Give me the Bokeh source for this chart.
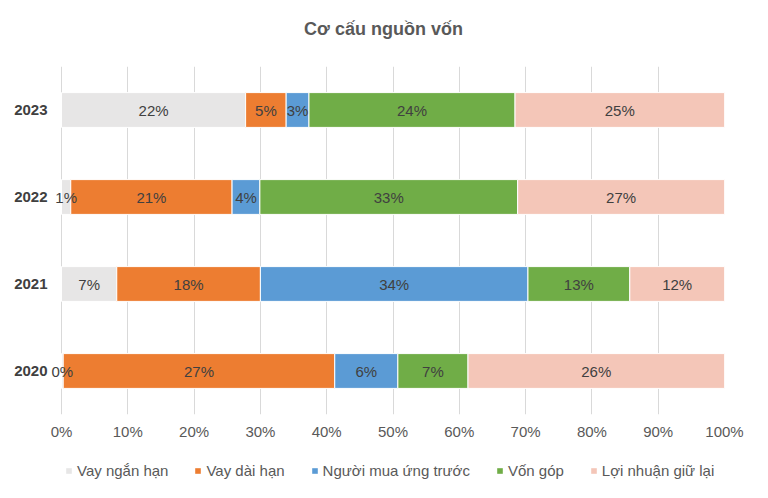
import numpy as np
from bokeh.plotting import figure
from bokeh.layouts import column
from bokeh.models import (ColumnDataSource, FactorRange, Range1d, FixedTicker,
                          PrintfTickFormatter, Legend, LegendItem, Label)
from bokeh.core.properties import value
from bokeh.embed import file_html
from bokeh.resources import INLINE

years = ["2020", "2021", "2022", "2023"]
series = ["Vay ngắn hạn", "Vay dài hạn", "Người mua ứng trước", "Vốn góp", "Lợi nhuận giữ lại"]
vay_ngan_han = [0.17, 7.0, 1.2, 21.8]
vay_dai_han = [27.1, 18.2, 20.9, 4.8]
nguoi_mua_ung_truoc = [6.3, 33.9, 3.6, 2.7]
von_gop = [7.0, 12.9, 33.4, 24.4]
loi_nhuan_giu_lai = [25.6, 12.0, 26.8, 24.8]
colors = ["#E7E6E6", "#ED7D31", "#5B9BD5", "#70AD47", "#F4C6B8"]
x_ticks = [0, 10, 20, 30, 40, 50, 60, 70, 80, 90, 100]
title_text = "Cơ cấu nguồn vốn"

FONT = "Liberation Sans"
W = 752

vals = np.array([vay_ngan_han, vay_dai_han, nguoi_mua_ung_truoc, von_gop, loi_nhuan_giu_lai])
totals = vals.sum(axis=0)
shares = vals / totals * 100
rights = np.cumsum(shares, axis=0)
lefts = rights - shares


def blank(height):
    f = figure(width=W, height=height, output_backend="svg", toolbar_location=None,
               x_range=Range1d(0, 1), y_range=Range1d(0, 1), min_border=0)
    f.axis.visible = False
    f.grid.visible = False
    f.outline_line_color = None
    f.background_fill_color = "white"
    f.border_fill_color = "white"
    return f


# ---- title strip (its frame is aligned with the chart frame by the column)
p_title = blank(66)
p_title.add_layout(Label(x=334, y=38, x_units="screen", y_units="screen", text=title_text,
                         text_align="center", text_baseline="middle", text_font_size="18px",
                         text_font_style="bold", text_color="#595959", text_font=FONT))

# ---- main chart
p = figure(frame_width=675, frame_height=348, output_backend="svg", toolbar_location=None,
           x_range=Range1d(-1.81, 100), y_range=FactorRange(factors=years, range_padding=0),
           min_border_left=49, min_border_right=28, min_border_top=0, min_border_bottom=36)
p.outline_line_color = None
p.background_fill_color = "white"
p.border_fill_color = "white"

sources = []
for i, name in enumerate(series):
    src = ColumnDataSource(dict(
        year=years, left=list(lefts[i]), right=list(rights[i]),
        xc=list((lefts[i] + rights[i]) / 2),
        label=[f"{int(round(v))}%" for v in vals[i]],
    ))
    sources.append(src)
    p.hbar(y="year", left="left", right="right", height=0.4, source=src,
           fill_color=colors[i], line_color="white", line_width=1)

for src in sources:
    p.text(x="xc", y="year", text="label", source=src, text_align="center",
           text_baseline="middle", text_font_size="15px", text_color="#404040",
           text_font=value(FONT))

p.xaxis.ticker = FixedTicker(ticks=x_ticks)
p.xaxis.formatter = PrintfTickFormatter(format="%d%%")
p.xaxis.axis_line_color = None
p.xaxis.major_tick_line_color = None
p.xaxis.minor_tick_line_color = None
p.xaxis.major_tick_out = 0
p.xaxis.major_tick_in = 0
p.xaxis.minor_tick_out = 0
p.xaxis.major_label_standoff = 8
p.xaxis.major_label_text_font_size = "15px"
p.xaxis.major_label_text_color = "#595959"
p.xaxis.major_label_text_font = FONT

p.yaxis.axis_line_color = None
p.yaxis.major_tick_line_color = None
p.yaxis.minor_tick_line_color = None
p.yaxis.major_tick_out = 0
p.yaxis.major_tick_in = 0
p.yaxis.minor_tick_out = 0
p.yaxis.major_label_standoff = 2
p.yaxis.major_label_text_font_size = "15px"
p.yaxis.major_label_text_font_style = "bold"
p.yaxis.major_label_text_color = "#404040"
p.yaxis.major_label_text_font = FONT

p.xgrid.grid_line_color = "#D9D9D9"
p.xgrid.grid_line_width = 1
p.ygrid.grid_line_color = None

# ---- legend strip: zero-size proxy bars carry the colours for the legend swatches
p_leg = blank(40)
items = []
for i, name in enumerate(series):
    r = p_leg.hbar(y=[0], left=[0], right=[0], height=0,
                   fill_color=colors[i], line_color=None)
    items.append(LegendItem(label=name, renderers=[r]))
legend = Legend(items=items, orientation="horizontal", location=(16, 11),
                glyph_width=7, glyph_height=7, label_standoff=5, spacing=26,
                label_text_font_size="15px", label_text_color="#595959",
                label_text_font=FONT, border_line_color=None,
                background_fill_alpha=0, margin=0, padding=0)
p_leg.add_layout(legend)

layout = column(p_title, p, p_leg, spacing=0)
open("out.html", "w").write(file_html(layout, INLINE))
